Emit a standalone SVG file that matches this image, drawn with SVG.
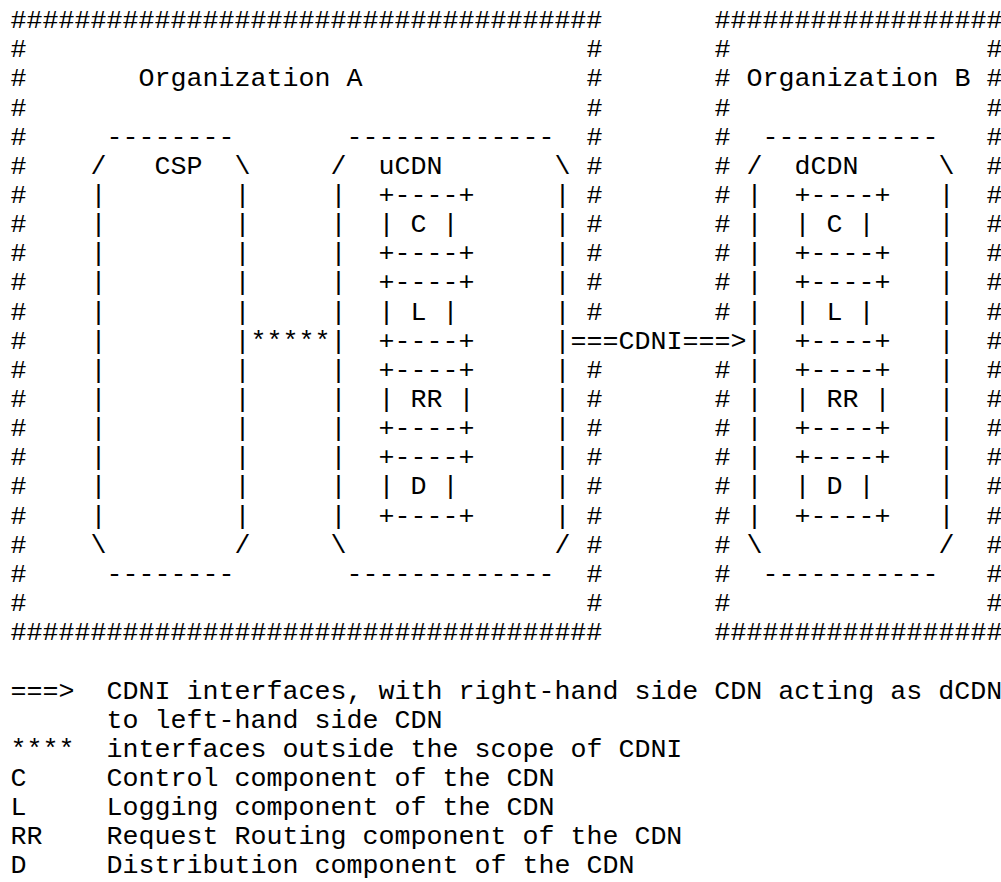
<svg xmlns="http://www.w3.org/2000/svg" width="1001" height="882" viewBox="0 0 1001 882">
<style>
.t{font-family:"Liberation Mono","Courier New",monospace;font-size:26.667px;fill:#000;white-space:pre}
</style>
<rect width="1001" height="882" fill="#fff"/>
<g id="org-a" class="t">
<text x="10.5" y="28">#####################################</text>
<text x="10.5" y="640.2">#####################################</text>
<text x="10.5 10.5 10.5 10.5 10.5 10.5 10.5 10.5 10.5 10.5 10.5 10.5 10.5 10.5 10.5 10.5 10.5 10.5 10.5 10.5" y="57.2 86.3 115.5 144.6 173.8 202.9 232.1 261.2 290.4 319.5 348.7 377.8 407 436.1 465.3 494.4 523.6 552.7 581.9 611">####################</text>
<text x="586.5 586.5 586.5 586.5 586.5 586.5 586.5 586.5 586.5 586.5 586.5 586.5 586.5 586.5 586.5 586.5 586.5 586.5 586.5" y="57.2 86.3 115.5 144.6 173.8 202.9 232.1 261.2 290.4 319.5 377.8 407 436.1 465.3 494.4 523.6 552.7 581.9 611">###################</text>
<text x="138.5" y="86.3">Organization A</text>
</g>
<g id="org-b" class="t">
<text x="714.5" y="28">##################</text>
<text x="714.5" y="640.2">##################</text>
<text x="714.5 714.5 714.5 714.5 714.5 714.5 714.5 714.5 714.5 714.5 714.5 714.5 714.5 714.5 714.5 714.5 714.5 714.5 714.5" y="57.2 86.3 115.5 144.6 173.8 202.9 232.1 261.2 290.4 319.5 377.8 407 436.1 465.3 494.4 523.6 552.7 581.9 611">###################</text>
<text x="986.5 986.5 986.5 986.5 986.5 986.5 986.5 986.5 986.5 986.5 986.5 986.5 986.5 986.5 986.5 986.5 986.5 986.5 986.5 986.5" y="57.2 86.3 115.5 144.6 173.8 202.9 232.1 261.2 290.4 319.5 348.7 377.8 407 436.1 465.3 494.4 523.6 552.7 581.9 611">####################</text>
<text x="746.5" y="86.3">Organization B</text>
</g>
<g id="csp" class="t">
<text x="106.5" y="144.6">--------</text>
<text x="90.5" y="173.8">/</text>
<text x="154.5" y="173.8">CSP</text>
<text x="234.5" y="173.8">\</text>
<text x="90.5 90.5 90.5 90.5 90.5 90.5 90.5 90.5 90.5 90.5 90.5 90.5" y="202.9 232.1 261.2 290.4 319.5 348.7 377.8 407 436.1 465.3 494.4 523.6">||||||||||||</text>
<text x="234.5 234.5 234.5 234.5 234.5 234.5 234.5 234.5 234.5 234.5 234.5 234.5" y="202.9 232.1 261.2 290.4 319.5 348.7 377.8 407 436.1 465.3 494.4 523.6">||||||||||||</text>
<text x="90.5" y="552.7">\</text>
<text x="234.5" y="552.7">/</text>
<text x="106.5" y="581.9">--------</text>
</g>
<g id="ucdn" class="t">
<text x="346.5" y="144.6">-------------</text>
<text x="330.5" y="173.8">/</text>
<text x="378.5" y="173.8">uCDN</text>
<text x="554.5" y="173.8">\</text>
<text x="330.5 330.5 330.5 330.5 330.5 330.5 330.5 330.5 330.5 330.5 330.5 330.5" y="202.9 232.1 261.2 290.4 319.5 348.7 377.8 407 436.1 465.3 494.4 523.6">||||||||||||</text>
<text x="554.5 554.5 554.5 554.5 554.5 554.5 554.5 554.5 554.5 554.5 554.5 554.5" y="202.9 232.1 261.2 290.4 319.5 348.7 377.8 407 436.1 465.3 494.4 523.6">||||||||||||</text>
<text x="330.5" y="552.7">\</text>
<text x="554.5" y="552.7">/</text>
<text x="346.5" y="581.9">-------------</text>
</g>
<g id="ucdn-c" class="t"><text x="378.5" y="202.9">+----+</text><text x="378.5" y="232.1">| C  |</text><text x="378.5" y="261.2">+----+</text></g>
<g id="ucdn-l" class="t"><text x="378.5" y="290.4">+----+</text><text x="378.5" y="319.5">| L  |</text><text x="378.5" y="348.7">+----+</text></g>
<g id="ucdn-rr" class="t"><text x="378.5" y="377.8">+----+</text><text x="378.5" y="407">| RR |</text><text x="378.5" y="436.1">+----+</text></g>
<g id="ucdn-d" class="t"><text x="378.5" y="465.3">+----+</text><text x="378.5" y="494.4">| D  |</text><text x="378.5" y="523.6">+----+</text></g>
<g id="dcdn" class="t">
<text x="762.5" y="144.6">-----------</text>
<text x="746.5" y="173.8">/</text>
<text x="794.5" y="173.8">dCDN</text>
<text x="938.5" y="173.8">\</text>
<text x="746.5 746.5 746.5 746.5 746.5 746.5 746.5 746.5 746.5 746.5 746.5 746.5" y="202.9 232.1 261.2 290.4 319.5 348.7 377.8 407 436.1 465.3 494.4 523.6">||||||||||||</text>
<text x="938.5 938.5 938.5 938.5 938.5 938.5 938.5 938.5 938.5 938.5 938.5 938.5" y="202.9 232.1 261.2 290.4 319.5 348.7 377.8 407 436.1 465.3 494.4 523.6">||||||||||||</text>
<text x="746.5" y="552.7">\</text>
<text x="938.5" y="552.7">/</text>
<text x="762.5" y="581.9">-----------</text>
</g>
<g id="dcdn-c" class="t"><text x="794.5" y="202.9">+----+</text><text x="794.5" y="232.1">| C  |</text><text x="794.5" y="261.2">+----+</text></g>
<g id="dcdn-l" class="t"><text x="794.5" y="290.4">+----+</text><text x="794.5" y="319.5">| L  |</text><text x="794.5" y="348.7">+----+</text></g>
<g id="dcdn-rr" class="t"><text x="794.5" y="377.8">+----+</text><text x="794.5" y="407">| RR |</text><text x="794.5" y="436.1">+----+</text></g>
<g id="dcdn-d" class="t"><text x="794.5" y="465.3">+----+</text><text x="794.5" y="494.4">| D  |</text><text x="794.5" y="523.6">+----+</text></g>
<g id="connectors" class="t">
<text x="250.5" y="348.7">*****</text>
<text x="570.5" y="348.7">===CDNI===&gt;</text>
</g>
<g id="legend" class="t">
<text x="10.5" y="698.5">===&gt;</text><text x="106.5" y="698.5">CDNI interfaces, with right-hand side CDN acting as dCDN</text>
<text x="106.5" y="727.6">to left-hand side CDN</text>
<text x="10.5" y="756.8">****</text><text x="106.5" y="756.8">interfaces outside the scope of CDNI</text>
<text x="10.5" y="785.9">C</text><text x="106.5" y="785.9">Control component of the CDN</text>
<text x="10.5" y="815.1">L</text><text x="106.5" y="815.1">Logging component of the CDN</text>
<text x="10.5" y="844.2">RR</text><text x="106.5" y="844.2">Request Routing component of the CDN</text>
<text x="10.5" y="873.4">D</text><text x="106.5" y="873.4">Distribution component of the CDN</text>
</g>
</svg>
